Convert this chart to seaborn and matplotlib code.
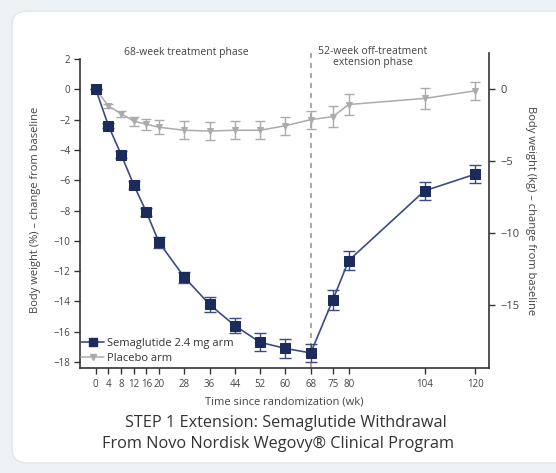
import numpy as np
import pandas as pd
import seaborn as sns
import matplotlib
matplotlib.use("Agg")
import matplotlib.pyplot as plt
from matplotlib.patches import FancyBboxPatch
from matplotlib.lines import Line2D

# ---- data ----
weeks = [0, 4, 8, 12, 16, 20, 28, 36, 44, 52, 60, 68, 75, 80, 104, 120]
sema = [0, -2.4, -4.3, -6.3, -8.1, -10.1, -12.4, -14.2, -15.6, -16.7, -17.1, -17.4, -13.9, -11.3, -6.7, -5.6]
sema_err = [0, 0.15, 0.2, 0.25, 0.25, 0.35, 0.35, 0.5, 0.5, 0.6, 0.6, 0.6, 0.65, 0.65, 0.6, 0.6]
placebo = [0, -1.1, -1.6, -2.1, -2.3, -2.5, -2.7, -2.75, -2.7, -2.7, -2.4, -2.0, -1.8, -1.0, -0.6, -0.1]
placebo_err = [0, 0.15, 0.2, 0.3, 0.35, 0.45, 0.6, 0.6, 0.6, 0.6, 0.6, 0.6, 0.7, 0.7, 0.7, 0.6]
xticks = [0, 4, 8, 12, 16, 20, 28, 36, 44, 52, 60, 68, 75, 80, 104, 120]
yticks_pct = [2, 0, -2, -4, -6, -8, -10, -12, -14, -16, -18]
yticks_kg = [0, -5, -10, -15]
series_names = ["Semaglutide 2.4 mg arm", "Placebo arm"]
title_lines = ["STEP 1 Extension: Semaglutide Withdrawal",
               "From Novo Nordisk Wegovy® Clinical Program"]

sns.set_style("white")
plt.rcParams['font.family'] = ['Open Sans', 'DejaVu Sans']

W, H = 556, 473
fig = plt.figure(figsize=(W / 100, H / 100), dpi=100)
fig.patch.set_facecolor("#eef1f3")
card = FancyBboxPatch((12 / W, 10 / H), 560 / W, 452 / H,
                      boxstyle="round,pad=0,rounding_size=0.03",
                      transform=fig.transFigure, facecolor="white",
                      edgecolor="#e2e6e8", linewidth=1.0, zorder=-5)
fig.patches.append(card)

ax = fig.add_axes([80 / W, 1 - 367.5 / H, (489 - 80) / W, (367.5 - 53) / H])
ax.set_facecolor("none")

navy = "#1c2a5c"
navy_line = "#3d4b80"
grey = "#ababab"

df = pd.DataFrame({"week": weeks * 2,
                   "value": sema + placebo,
                   "arm": [series_names[0]] * len(weeks) + [series_names[1]] * len(weeks)})

ax.errorbar(weeks, placebo, yerr=placebo_err, fmt="none", ecolor=grey,
            elinewidth=1.0, capsize=3.5, capthick=1.0, zorder=2)
ax.errorbar(weeks, sema, yerr=sema_err, fmt="none", ecolor=navy_line,
            elinewidth=1.0, capsize=4, capthick=1.0, zorder=3)

sns.lineplot(data=df[df.arm == series_names[1]], x="week", y="value", ax=ax,
             color=grey, marker="v", markersize=5, markeredgecolor=grey,
             linewidth=1.1, legend=False, zorder=4)
sns.lineplot(data=df[df.arm == series_names[0]], x="week", y="value", ax=ax,
             color=navy_line, marker="s", markersize=7, markerfacecolor=navy,
             markeredgecolor=navy, linewidth=1.2, legend=False, zorder=5)

ax.axvline(68, color="#999999", linestyle=(0, (3, 3)), linewidth=1.2, zorder=1)

ax.set_xlim(-5, 124.4)
ylo, yhi = -18.36, 2.4
ax.set_ylim(ylo, yhi)
ax.set_xticks(xticks)
ax.set_xticklabels([str(t) for t in xticks])
ax.set_yticks(yticks_pct)
ax.set_yticklabels([("−" + str(-t)) if t < 0 else str(t) for t in yticks_pct])
ax.tick_params(axis="both", direction="out", length=4, width=1, color="#333333",
               labelsize=7, labelcolor="#444444", pad=3, left=True, bottom=True)
ax.tick_params(axis="x", pad=4)
ax.set_xlabel("Time since randomization (wk)", fontsize=8, color="#444444", labelpad=5)
ax.set_ylabel("Body weight (%) – change from baseline", fontsize=8, color="#444444", labelpad=9)

for s in ["top", "right"]:
    ax.spines[s].set_visible(False)
for s in ["left", "bottom"]:
    ax.spines[s].set_color("#333333")
    ax.spines[s].set_linewidth(1.2)
ax.spines["left"].set_bounds(ylo, 2)

ax2 = ax.twinx()
ratio = 15.17 / 14.4
ax2.set_ylim(ylo * ratio, yhi * ratio)
ax2.set_yticks(yticks_kg)
ax2.set_yticklabels([("−" + str(-t)) if t < 0 else str(t) for t in yticks_kg])
ax2.tick_params(axis="y", direction="out", length=4, width=1, color="#333333",
                labelsize=8, labelcolor="#444444", pad=4, right=True)
ax2.set_ylabel("Body weight (kg) – change from baseline", fontsize=8, color="#444444",
               rotation=270, labelpad=12)
for s in ["top", "left", "bottom"]:
    ax2.spines[s].set_visible(False)
ax2.spines["right"].set_color("#333333")
ax2.spines["right"].set_linewidth(1.2)

handles = [Line2D([], [], color=navy_line, marker="s", markersize=6, markerfacecolor=navy,
                  markeredgecolor=navy, linewidth=1.2),
           Line2D([], [], color=grey, marker="v", markersize=4.5, markeredgecolor=grey, linewidth=1.1)]
leg = ax.legend(handles, series_names, loc="lower left", bbox_to_anchor=(-0.01, -0.005),
                frameon=False, fontsize=8, handlelength=2.0, handletextpad=0.3,
                labelspacing=0.35, borderaxespad=0.1)
for t in leg.get_texts():
    t.set_color("#333333")

fig.text(186 / W, 1 - 52 / H, "68-week treatment phase", ha="center", va="center",
         fontsize=7.5, color="#444444")
fig.text(373 / W, 1 - 57 / H, "52-week off-treatment\nextension phase", ha="center",
         va="center", fontsize=7.5, color="#444444", linespacing=1.05)

# title lines, fitted so the first line is about 323 px wide
t1 = fig.text(286 / W, 1 - 423 / H, title_lines[0], ha="center", va="center",
              fontsize=11, color="#333333")
t2 = fig.text(278 / W, 1 - 444 / H, title_lines[1], ha="center", va="center",
              fontsize=11, color="#333333")
renderer = fig.canvas.get_renderer()
w1 = t1.get_window_extent(renderer).width
fs = 11 * 323 / w1
t1.set_fontsize(fs)
t2.set_fontsize(fs)

fig.savefig("out.png", dpi=100)
